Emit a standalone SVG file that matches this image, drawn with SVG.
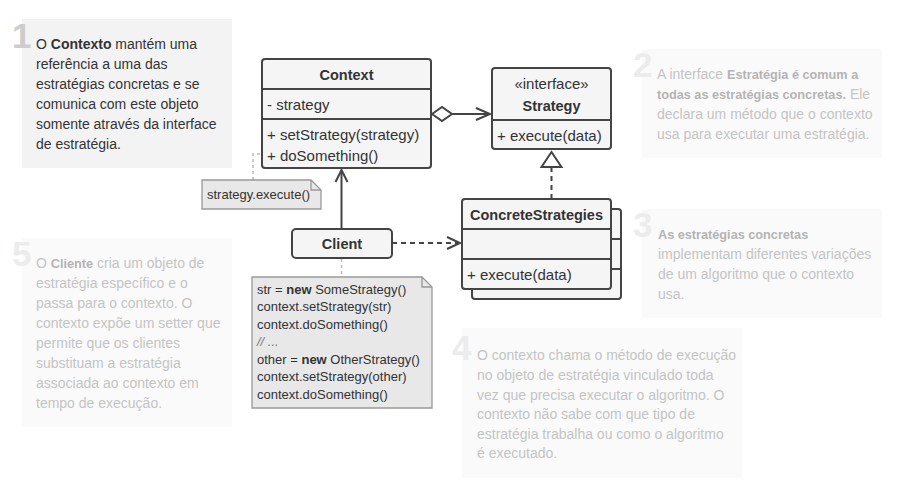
<svg xmlns="http://www.w3.org/2000/svg" width="906" height="496" viewBox="0 0 906 496">
<defs>
<style>
.t{font-family:"Liberation Sans",Arial,sans-serif;font-size:14px;}
.dk{fill:#333;}
.lt{fill:#c4c4c4;}
.ltb{fill:#b4b4b4;font-weight:bold;font-size:12.7px;}
.b{font-weight:bold;}
.num{font-family:"Liberation Sans",Arial,sans-serif;font-size:35px;font-weight:bold;}
.box{fill:#f5f5f5;stroke:#444;stroke-width:2;}
.ln{stroke:#444;stroke-width:2;fill:none;}
.u{font-family:"Liberation Sans",Arial,sans-serif;font-size:15px;fill:#333;}
.ub{font-family:"Liberation Sans",Arial,sans-serif;font-size:14.5px;fill:#333;font-weight:bold;}
.note{fill:#e8e8e8;stroke:#999;stroke-width:1.3;}
.nt{font-family:"Liberation Sans",Arial,sans-serif;font-size:13px;fill:#333;}
.dot{stroke:#bbb;stroke-width:1.5;stroke-dasharray:3 3;fill:none;}
</style>
</defs>
<rect width="906" height="496" fill="#fff"/>

<g id="panel1">
<rect x="22" y="19" width="210" height="149" fill="#f3f3f3"/>
<text x="12" y="48" class="num" fill="#cdcdcd">1</text>
<text class="t dk"><tspan x="36" y="49">O <tspan class="b">Contexto</tspan> mantém uma</tspan><tspan x="36" y="69">referência a uma das</tspan><tspan x="36" y="89">estratégias concretas e se</tspan><tspan x="36" y="109">comunica com este objeto</tspan><tspan x="36" y="129">somente através da interface</tspan><tspan x="36" y="149">de estratégia.</tspan></text>
</g>

<g id="panel2">
<rect x="642" y="49" width="240" height="109" fill="#fafafa"/>
<text x="633" y="77" class="num" fill="#ececec">2</text>
<text class="t lt"><tspan x="657" y="79">A interface <tspan class="ltb">Estratégia é comum a</tspan></tspan><tspan x="657" y="99"><tspan class="ltb">todas as estratégias concretas.</tspan> Ele</tspan><tspan x="657" y="119">declara um método que o contexto</tspan><tspan x="657" y="139">usa para executar uma estratégia.</tspan></text>
</g>

<g id="panel3">
<rect x="642" y="209" width="240" height="109" fill="#fafafa"/>
<text x="633" y="237" class="num" fill="#ececec">3</text>
<text class="t lt"><tspan x="658" y="239" class="ltb">As estratégias concretas</tspan><tspan x="658" y="259">implementam diferentes variações</tspan><tspan x="658" y="279">de um algoritmo que o contexto</tspan><tspan x="658" y="299">usa.</tspan></text>
</g>

<g id="panel4">
<rect x="462" y="328" width="280" height="150" fill="#fafafa"/>
<text x="452" y="360" class="num" fill="#ececec">4</text>
<text class="t lt"><tspan x="477" y="360">O contexto chama o método de execução</tspan><tspan x="477" y="380">no objeto de estratégia vinculado toda</tspan><tspan x="477" y="400">vez que precisa executar o algoritmo. O</tspan><tspan x="477" y="419">contexto não sabe com que tipo de</tspan><tspan x="477" y="439">estratégia trabalha ou como o algoritmo</tspan><tspan x="477" y="458">é executado.</tspan></text>
</g>

<g id="panel5">
<rect x="22" y="238" width="210" height="189" fill="#fafafa"/>
<text x="12" y="266" class="num" fill="#ececec">5</text>
<text class="t lt"><tspan x="36" y="268">O <tspan class="ltb">Cliente</tspan> cria um objeto de</tspan><tspan x="36" y="288">estratégia específico e o</tspan><tspan x="36" y="308">passa para o contexto. O</tspan><tspan x="36" y="328">contexto expõe um setter que</tspan><tspan x="36" y="348">permite que os clientes</tspan><tspan x="36" y="368">substituam a estratégia</tspan><tspan x="36" y="388">associada ao contexto em</tspan><tspan x="36" y="408">tempo de execução.</tspan></text>
</g>

<g id="connectors">
<path class="dot" d="M253 180 V154 H262"/>
<path class="dot" d="M341.5 259 V277"/>
<path class="ln" d="M341.5 229 V170"/>
<path class="ln" d="M335.5 182 L341.5 170 L347.5 182"/>
<path class="ln" d="M452 114 H490"/>
<path d="M432 114 L442 107 L452 114 L442 121 Z" fill="#fff" stroke="#444" stroke-width="2"/>
<path class="ln" d="M476 108 L490 114 L476 120"/>
<path class="ln" d="M392 243 H459" stroke-dasharray="5 4"/>
<path class="ln" d="M447 237 L460 243 L447 249"/>
<path class="ln" d="M551.5 199 V167" stroke-dasharray="5 4"/>
<path d="M551.5 152 L561.5 167 L541.5 167 Z" fill="#fff" stroke="#444" stroke-width="2"/>
</g>

<g id="context">
<rect class="box" x="262" y="59" width="169" height="109" rx="3"/>
<path class="ln" d="M262 89 H431 M262 119 H431"/>
<text x="346.5" y="80" class="ub" text-anchor="middle">Context</text>
<text x="267" y="110" class="u">- strategy</text>
<text x="267" y="140" class="u">+ setStrategy(strategy)</text>
<text x="267" y="161" class="u">+ doSomething()</text>
</g>

<g id="strategy">
<rect class="box" x="492" y="68" width="119" height="81" rx="3"/>
<path class="ln" d="M492 120 H611"/>
<text x="551.5" y="89" class="u" text-anchor="middle">«interface»</text>
<text x="551.5" y="111" class="ub" text-anchor="middle">Strategy</text>
<text x="497" y="141" class="u">+ execute(data)</text>
</g>

<g id="concrete">
<rect class="box" x="472" y="209" width="149" height="90" rx="3"/>
<path class="ln" d="M611 239 H621 M611 269 H621"/>
<rect class="box" x="462" y="199" width="149" height="90" rx="3"/>
<path class="ln" d="M462 229 H611 M462 259 H611"/>
<text x="536.5" y="220" class="ub" text-anchor="middle">ConcreteStrategies</text>
<text x="467" y="280" class="u">+ execute(data)</text>
</g>

<g id="client">
<rect class="box" x="292" y="229" width="100" height="29" rx="4"/>
<text x="342" y="249" class="ub" text-anchor="middle">Client</text>
</g>

<g id="note-execute">
<path class="note" d="M202 180 H311 L321 190 V209 H202 Z"/>
<path d="M311 180 V190 H321" fill="none" stroke="#999" stroke-width="1.3"/>
<text x="207" y="199" class="nt">strategy.execute()</text>
</g>

<g id="note-client">
<path class="note" d="M252 277 H422 L432 287 V408 H252 Z"/>
<path d="M422 277 V287 H432" fill="none" stroke="#999" stroke-width="1.3"/>
<text class="nt"><tspan x="257" y="293.5">str = <tspan font-weight="bold">new</tspan> SomeStrategy()</tspan><tspan x="257" y="311">context.setStrategy(str)</tspan><tspan x="257" y="328.5">context.doSomething()</tspan><tspan x="257" y="346" font-style="italic" fill="#777">// ...</tspan><tspan x="257" y="363.5">other = <tspan font-weight="bold">new</tspan> OtherStrategy()</tspan><tspan x="257" y="381">context.setStrategy(other)</tspan><tspan x="257" y="398.5">context.doSomething()</tspan></text>
</g>
</svg>
